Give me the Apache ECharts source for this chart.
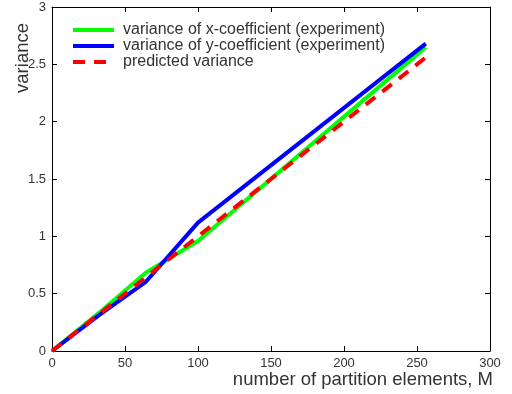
<!DOCTYPE html>
<html>
<head>
<meta charset="utf-8">
<script src="https://cdn.jsdelivr.net/npm/echarts@6/dist/echarts.min.js"></script>
<style>
  html, body { margin: 0; padding: 0; background: #fff; }
  #chart { width: 512px; height: 394px; }
</style>
</head>
<body>
<div id="chart"></div>
<script>
// partition elements M
const mExp = [0, 32, 64, 100, 256];
const varX = [0, 0.33, 0.68, 0.96, 2.65];
const varY = [0, 0.31, 0.60, 1.12, 2.68];
const mPred = [0, 256];
const varPred = [0, 2.56];

const xTicks = [0, 50, 100, 150, 200, 250, 300];
const yTicks = [0, 0.5, 1, 1.5, 2, 2.5, 3];

const seriesNames = [
    'variance of x-coefficient (experiment)',
    'variance of y-coefficient (experiment)',
    'predicted variance'
];

const pairs = (xs, ys) => xs.map((x, i) => [x, ys[i]]);

const font = 'Liberation Sans, Arial, sans-serif';
const textColor = '#333';

const chart = echarts.init(document.getElementById('chart'));

const tickAxisX = (pos, showLabel) => ({
    type: 'value',
    position: pos,
    min: xTicks[0],
    max: xTicks[xTicks.length - 1],
    interval: 50,
    axisLine: { show: true, onZero: false, lineStyle: { color: '#000', width: 1 } },
    axisTick: { show: true, inside: true, length: 5, lineStyle: { color: '#000' } },
    axisLabel: { show: showLabel, color: textColor, fontSize: 13, fontFamily: font, margin: 6 },
    splitLine: { show: false }
});

const tickAxisY = (pos, showLabel) => ({
    type: 'value',
    position: pos,
    min: yTicks[0],
    max: yTicks[yTicks.length - 1],
    interval: 0.5,
    axisLine: { show: true, onZero: false, lineStyle: { color: '#000', width: 1 } },
    axisTick: { show: true, inside: true, length: 5, lineStyle: { color: '#000' } },
    axisLabel: { show: showLabel, color: textColor, fontSize: 13, fontFamily: font, margin: 6 },
    splitLine: { show: false }
});

const option = {
    animation: false,
    backgroundColor: '#fff',
    grid: { left: 52, right: 22, top: 7, bottom: 43, containLabel: false, outerBoundsMode: 'none' },
    legend: {
        orient: 'vertical',
        left: 66,
        top: 17,
        itemWidth: 41,
        itemHeight: 10,
        itemGap: 0,
        itemStyle: { opacity: 0 },
        lineStyle: { width: 4 },
        textStyle: { color: textColor, fontSize: 16, fontFamily: font, padding: [0, 0, 0, 4] },
        data: seriesNames
    },
    graphic: [{
        type: 'text',
        left: 13,
        top: 23,
        rotation: Math.PI / 2,
        style: { text: 'variance', fill: textColor, fontSize: 18.5, fontFamily: font }
    }, {
        type: 'text',
        right: 19,
        top: 370,
        style: { text: 'number of partition elements, M', fill: textColor, fontSize: 18.5, fontFamily: font }
    }],
    xAxis: [tickAxisX('bottom', true), tickAxisX('top', false)],
    yAxis: [tickAxisY('left', true), tickAxisY('right', false)],
    series: [
        {
            name: seriesNames[0],
            type: 'line',
            data: pairs(mExp, varX),
            symbol: 'none',
            color: '#00ff00',
            lineStyle: { width: 4, color: '#00ff00' }
        },
        {
            name: seriesNames[1],
            type: 'line',
            data: pairs(mExp, varY),
            symbol: 'none',
            color: '#0000ff',
            lineStyle: { width: 4, color: '#0000ff' }
        },
        {
            name: seriesNames[2],
            type: 'line',
            data: pairs(mPred, varPred),
            symbol: 'none',
            color: '#ff0000',
            lineStyle: { width: 4, color: '#ff0000', type: [12, 9] }
        }
    ]
};

chart.setOption(option);
</script>
</body>
</html>
